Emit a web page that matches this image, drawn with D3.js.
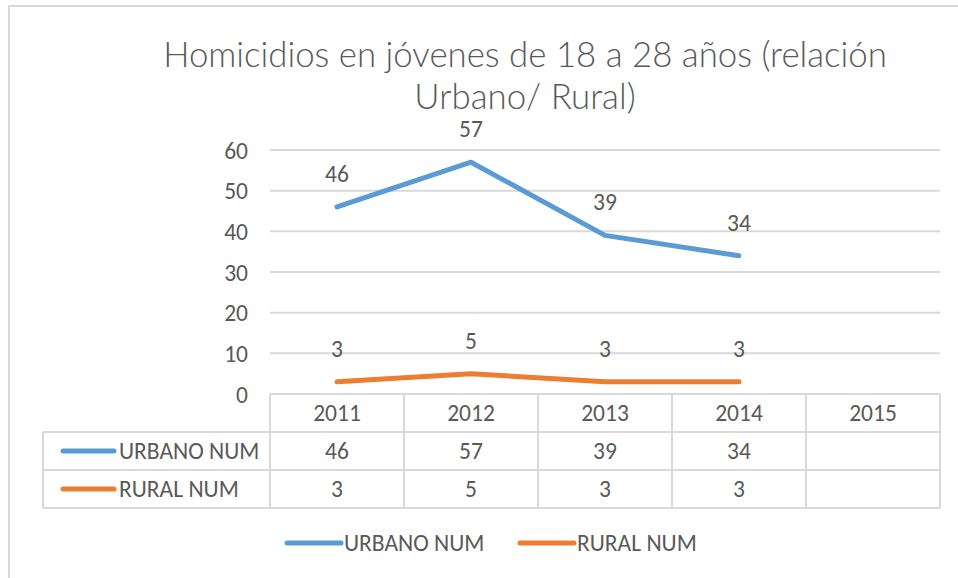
<!DOCTYPE html>
<html>
<head>
<meta charset="utf-8">
<script src="https://cdn.jsdelivr.net/npm/d3@7"></script>
<style>
  body { margin: 0; background: #fff; }
  text { font-family: Carlito, "Open Sans", "Noto Sans", sans-serif; fill: #595959; }
</style>
</head>
<body>
<div id="chart"></div>
<script>
// chart data
var years = ["2011", "2012", "2013", "2014", "2015"];
var urbano = [46, 57, 39, 34, null];
var rural = [3, 5, 3, 3, null];
var seriesNames = ["URBANO NUM", "RURAL NUM"];
var seriesColors = ["#5b9bd5", "#ed7d31"];
var yTicks = [0, 10, 20, 30, 40, 50, 60];
var titleLines = ["Homicidios en jóvenes de 18 a 28 años (relación", "Urbano/ Rural)"];

var svgWidth = 958, svgHeight = 578;
var margin = { top: 150, left: 270, right: 18 };
var plotBottom = 394;
var rowH = 38;
var fs = 23.5;

var svg = d3.select("#chart").append("svg")
  .attr("width", svgWidth)
  .attr("height", svgHeight);

// outer chart border
svg.append("rect")
  .attr("x", 9).attr("y", 6)
  .attr("width", 1000).attr("height", 1000)
  .attr("fill", "none")
  .attr("stroke", "#d9d9d9")
  .attr("stroke-width", 2);

// scales
var xScale = d3.scaleBand()
  .domain(years)
  .range([margin.left, svgWidth - margin.right]);

var yScale = d3.scaleLinear()
  .domain([0, 60])
  .range([plotBottom, margin.top]);

// title, size fitted to the reference width
var title = svg.append("g");
titleLines.forEach(function(t, i) {
  title.append("text")
    .attr("x", 525)
    .attr("y", 67 + i * 42)
    .attr("text-anchor", "middle")
    .attr("font-size", 32)
    .style("font-family", "Lato, Carlito, sans-serif")
    .attr("font-weight", 300)
    .text(t);
});
var w = title.select("text").node().getComputedTextLength();
title.selectAll("text").attr("font-size", 32 * 724 / w);

// gridlines
svg.append("g")
  .selectAll("line")
  .data(yTicks.filter(d => d > 0))
  .enter()
  .append("line")
  .attr("x1", margin.left)
  .attr("x2", svgWidth - margin.right)
  .attr("y1", d => yScale(d))
  .attr("y2", d => yScale(d))
  .attr("stroke", "#d9d9d9")
  .attr("stroke-width", 2);

// y axis labels
var yAxis = d3.axisLeft(yScale).tickValues(yTicks).tickSize(0).tickPadding(0);
var yG = svg.append("g")
  .attr("transform", "translate(248,0)")
  .call(yAxis);
yG.select(".domain").remove();
yG.selectAll("text")
  .attr("font-size", fs)
  .attr("fill", "#595959")
  .attr("font-family", null)
  .attr("dy", "0.35em");

// data table grid
var tableG = svg.append("g").attr("stroke", "#d9d9d9").attr("stroke-width", 2).attr("fill", "none");
var tableLeft = 43;
var tableRight = svgWidth - margin.right;
tableG.append("line").attr("x1", margin.left).attr("x2", tableRight).attr("y1", plotBottom).attr("y2", plotBottom);
[1, 2, 3].forEach(function(r) {
  tableG.append("line")
    .attr("x1", tableLeft).attr("x2", tableRight)
    .attr("y1", plotBottom + r * rowH).attr("y2", plotBottom + r * rowH);
});
tableG.append("line").attr("x1", tableLeft).attr("x2", tableLeft)
  .attr("y1", plotBottom + rowH).attr("y2", plotBottom + 3 * rowH);
xScale.domain().forEach(function(y) {
  tableG.append("line")
    .attr("x1", xScale(y)).attr("x2", xScale(y))
    .attr("y1", plotBottom).attr("y2", plotBottom + 3 * rowH);
});
tableG.append("line").attr("x1", tableRight).attr("x2", tableRight)
  .attr("y1", plotBottom).attr("y2", plotBottom + 3 * rowH);

// year header
svg.append("g").selectAll("text")
  .data(years)
  .enter()
  .append("text")
  .attr("x", d => xScale(d) + xScale.bandwidth() / 2)
  .attr("y", plotBottom + rowH / 2)
  .attr("dy", "0.35em")
  .attr("text-anchor", "middle")
  .attr("font-size", fs)
  .text(d => d);

// lines and labels
var allSeries = [urbano, rural];
var line = d3.line()
  .defined(d => d.v != null)
  .x(d => xScale(d.year) + xScale.bandwidth() / 2)
  .y(d => yScale(d.v));

allSeries.forEach(function(vals, i) {
  var pts = years.map((y, j) => ({ year: y, v: vals[j] }));
  svg.append("path")
    .datum(pts)
    .attr("d", line)
    .attr("fill", "none")
    .attr("stroke", seriesColors[i])
    .attr("stroke-width", 5)
    .attr("stroke-linecap", "round")
    .attr("stroke-linejoin", "round");

  svg.append("g").selectAll("text")
    .data(pts.filter(d => d.v != null))
    .enter()
    .append("text")
    .attr("x", d => xScale(d.year) + xScale.bandwidth() / 2)
    .attr("y", d => yScale(d.v) - 25)
    .attr("text-anchor", "middle")
    .attr("font-size", fs)
    .text(d => d.v);

  // table row
  var rowY = plotBottom + (i + 1) * rowH + rowH / 2;
  svg.append("line")
    .attr("x1", 63).attr("x2", 114)
    .attr("y1", rowY).attr("y2", rowY)
    .attr("stroke", seriesColors[i])
    .attr("stroke-width", 5)
    .attr("stroke-linecap", "round");
  svg.append("text")
    .attr("x", 119).attr("y", rowY)
    .attr("dy", "0.35em")
    .attr("font-size", fs)
    .text(seriesNames[i]);
  svg.append("g").selectAll("text")
    .data(pts.filter(d => d.v != null))
    .enter()
    .append("text")
    .attr("x", d => xScale(d.year) + xScale.bandwidth() / 2)
    .attr("y", rowY)
    .attr("dy", "0.35em")
    .attr("text-anchor", "middle")
    .attr("font-size", fs)
    .text(d => d.v);
});

// bottom legend
var legendX = [287, 520];
seriesNames.forEach(function(name, i) {
  var ly = 543;
  svg.append("line")
    .attr("x1", legendX[i]).attr("x2", legendX[i] + 54)
    .attr("y1", ly).attr("y2", ly)
    .attr("stroke", seriesColors[i])
    .attr("stroke-width", 5)
    .attr("stroke-linecap", "round");
  svg.append("text")
    .attr("x", legendX[i] + 57).attr("y", ly)
    .attr("dy", "0.35em")
    .attr("font-size", fs)
    .text(name);
});
</script>
</body>
</html>
